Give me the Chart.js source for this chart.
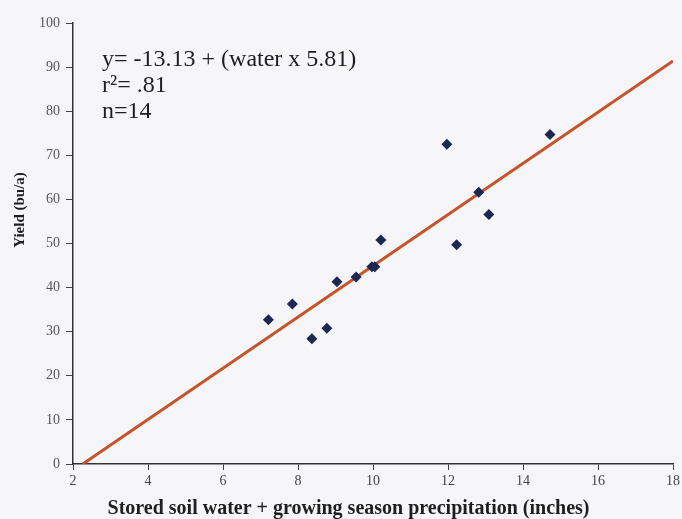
<!DOCTYPE html>
<html>
<head>
<meta charset="utf-8">
<script src="https://cdn.jsdelivr.net/npm/chart.js@4"></script>
<style>
  html, body { margin: 0; padding: 0; background: #f6f6f8; }
  #wrap { width: 682px; height: 519px; }
</style>
</head>
<body>
<div id="wrap"><canvas id="chart" width="682" height="519"></canvas></div>
<script>
const waterInches = [7.21, 7.85, 8.37, 8.77, 9.04, 9.55, 9.97, 10.05, 10.21, 11.97, 12.23, 12.82, 13.09, 14.72];
const yieldBu = [32.7, 36.3, 28.4, 30.8, 41.3, 42.4, 44.7, 44.7, 50.8, 72.5, 49.7, 61.6, 56.6, 74.7];

// fitted line end points
const fitX = [2.26, 18];
const fitY = [0, 91.4];

const notes = ['y= -13.13 + (water x 5.81)', 'r\u00B2= .81', 'n=14'];
const yTitle = 'Yield (bu/a)';

const serif = '"Liberation Serif", "Times New Roman", serif';

const notesPlugin = {
  id: 'notes',
  afterDraw(chart) {
    const ctx = chart.ctx;
    ctx.save();
    ctx.fillStyle = '#1e1e1e';
    ctx.font = '24px ' + serif;
    ctx.textBaseline = 'alphabetic';
    notes.forEach((t, i) => ctx.fillText(t, 102, 66 + i * 26));

    // y axis title sits above the middle of the axis in the original
    ctx.translate(20, 210);
    ctx.rotate(-Math.PI / 2);
    ctx.font = 'bold 15px ' + serif;
    ctx.textAlign = 'center';
    ctx.textBaseline = 'middle';
    ctx.fillText(yTitle, 0, 0);
    ctx.restore();
  },
};

const ctx = document.getElementById('chart').getContext('2d');
new Chart(ctx, {
  type: 'scatter',
  data: {
    datasets: [
      {
        label: 'fit',
        type: 'line',
        data: fitX.map((x, i) => ({ x: x, y: fitY[i] })),
        borderColor: '#c6532a',
        borderWidth: 3,
        pointRadius: 0,
        fill: false,
        order: 2,
      },
      {
        label: 'yield',
        data: waterInches.map((x, i) => ({ x: x, y: yieldBu[i] })),
        pointStyle: 'rectRot',
        pointRadius: 5.5,
        backgroundColor: '#1b2754',
        borderColor: '#1b2754',
        borderWidth: 0,
        order: 1,
      },
    ],
  },
  options: {
    responsive: false,
    animation: false,
    layout: { padding: { top: 23, right: 9, left: 24, bottom: 0 } },
    plugins: {
      legend: { display: false },
      tooltip: { enabled: false },
      title: {
        display: true,
        position: 'bottom',
        text: 'Stored soil water + growing season precipitation (inches)',
        color: '#1e1e1e',
        font: { family: serif, size: 20, weight: 'bold', lineHeight: 1 },
        padding: { top: 0, bottom: 0 },
      },
    },
    scales: {
      x: {
        type: 'linear',
        min: 2,
        max: 18,
        ticks: {
          stepSize: 2,
          color: '#444',
          font: { family: serif, size: 14 },
          padding: 3,
        },
        grid: { drawOnChartArea: false, tickLength: 6, color: '#444' },
        border: { color: '#333', width: 1.5 },
        afterFit(scale) {
          scale.height = 35;
          scale.paddingLeft = 0;
          scale.paddingRight = 0;
        },
      },
      y: {
        min: 0,
        max: 100,
        ticks: {
          stepSize: 10,
          color: '#555',
          font: { family: serif, size: 14 },
          padding: 6,
        },
        grid: { drawOnChartArea: false, tickLength: 7, color: '#444' },
        border: { color: '#333', width: 1.5 },
        afterFit(scale) {
          scale.width = 49;
        },
      },
    },
  },
  plugins: [notesPlugin],
});
</script>
</body>
</html>
